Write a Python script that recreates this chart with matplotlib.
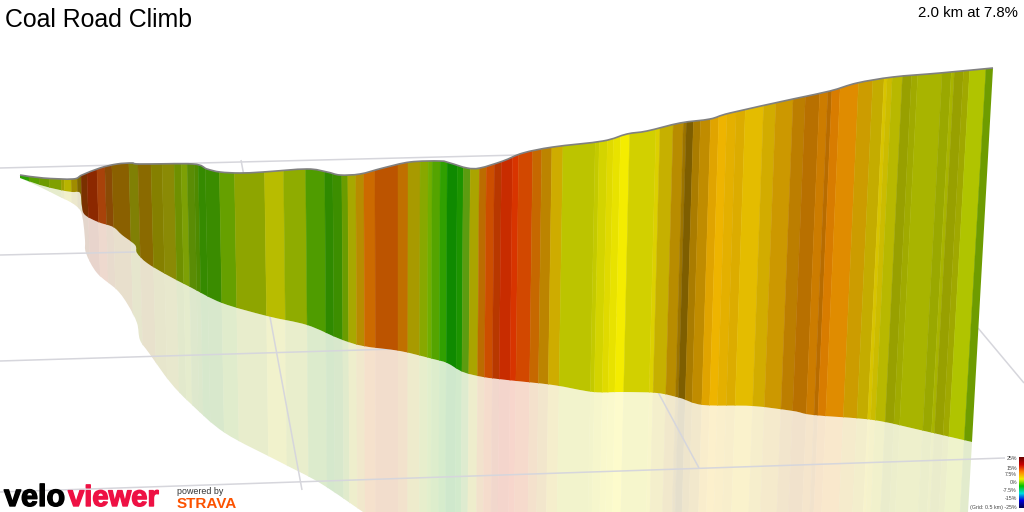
import matplotlib
matplotlib.use('Agg')
import matplotlib.pyplot as plt
import numpy as np
from matplotlib.collections import PolyCollection
from matplotlib.colors import LinearSegmentedColormap, to_rgb
from matplotlib.patches import PathPatch
from matplotlib.path import Path
import matplotlib.patheffects as pe

plt.rcParams['font.family'] = ['Liberation Sans', 'DejaVu Sans']

TITLE = 'Coal Road Climb'
SUMMARY = '2.0 km at 7.8%'

# outline of the climb "wall", picture pixels
top_x = [20, 43, 73, 82, 100, 117, 132, 140, 193, 207, 220, 240, 263, 307, 327, 340, 360, 383, 410, 440, 450,
         467, 480, 503, 523, 553, 603, 627, 647, 680, 710, 730, 793, 830, 857, 893, 940, 993]
top_y = [175, 178, 179, 175, 168, 164, 163, 164, 164, 169, 172, 173, 172, 169, 172, 175, 174, 168, 162, 161, 163,
         168, 168, 161, 153, 147, 141, 134, 131, 123, 119, 113, 99, 91, 83, 77, 73, 68]
bottom_x = [20, 40, 60, 72, 80, 82, 85, 98, 113, 122, 135, 137, 147, 167, 190, 222, 267, 307, 340, 363, 400, 433,
            447, 463, 483, 507, 553, 593, 623, 657, 680, 703, 752, 793, 813, 873, 920, 972]
bottom_y = [178, 185, 190, 192, 193, 207, 215, 222, 227, 235, 245, 253, 263, 275, 287, 303, 316, 325, 339, 346, 351,
            359, 363, 372, 377, 380, 385, 392, 392, 393, 398, 405, 406, 411, 415, 420, 430, 442]

# outer edge of the pale ground shadow
shadow_x = [20, 40, 60, 72, 80, 83, 85, 86, 97, 117, 128, 137, 140, 149, 170, 190, 225, 280, 320, 363]
shadow_y = [178, 187, 197, 203, 210, 220, 240, 253, 273, 290, 305, 323, 340, 353, 382, 403, 433, 462, 483, 512]
shadow_corner = (968, 512)

# gradient strips: left edge read along y=205, then colour
strip_edges = [20, 30, 40, 50, 62, 65, 72, 78, 82, 88, 98, 106, 113, 130, 139, 152, 163, 175, 182, 188, 195, 199, 206,
               220, 235, 265, 284, 306, 325, 333, 342, 348, 356, 364, 375, 398, 408, 420, 428, 432, 440, 447, 457,
               463, 470, 479, 486, 494, 501, 512, 518, 532, 541, 551, 562, 594, 598, 606, 612, 619, 628, 654, 658, 671,
               681, 684, 691, 698, 708, 716, 724, 733, 742, 760, 772, 789, 801, 815, 823, 827, 835, 853, 867, 878,
               881, 886, 896, 905, 911, 935, 944, 947, 956, 962, 978, 996]
strip_colours = ['#2ca000', '#58a000', '#6c9a00', '#80a000', '#a0a000', '#b8b400', '#a08c00', '#806800',
                 '#7a3000', '#8c2800', '#a8420a', '#8a4a05', '#8a6000', '#808005', '#8a6a00', '#858000', '#8a8a05',
                 '#6f9000', '#7da005', '#5a8c05', '#4f8a00', '#358a00', '#3a8c00', '#66a000', '#8ea500',
                 '#b8bc00', '#8fac00', '#4f9c00', '#2f8a00', '#3c8e00', '#6a9c00', '#a8a800', '#b88c00', '#cc6a00',
                 '#bc5400', '#c07000', '#a89a00', '#88a800', '#70ae00', '#54a400', '#30a000', '#0f8a00', '#1c9400',
                 '#5c9c10', '#aaa400', '#bc6c00', '#cc4e00', '#b83800', '#c82c00', '#d83400', '#d24800', '#c66800',
                 '#bc8400', '#ceac00', '#bcc400', '#c4ca00', '#d4d400', '#e0da00', '#e8e200', '#f4ec00', '#d2d000', '#dcd000',
                 '#c6b000', '#b88c00', '#9c7400', '#7e5e00', '#aa7c00', '#c08c00', '#e0a400', '#eeb400', '#e4b000',
                 '#dcac00', '#e4bc00', '#d2ac00', '#cc9800', '#bc7e00', '#b87000', '#cc7c00', '#b86c00', '#d87c00',
                 '#e08c00', '#cc9c00', '#c4ac00', '#d8c400', '#ccbc00', '#b8b800', '#98a000', '#a0aa00', '#a8b400',
                 '#9aa800', '#a8b400', '#98a000', '#a0a800', '#b0c400', '#6e9c00']

# grid on the ground plane, (x0, y0, x1, y1)
grid_lines = [(0, 168, 520, 155), (0, 255, 135, 252), (0, 361, 395, 349), (0, 492, 1005, 458),
              (241, 160, 302, 490), (530, 155, 699, 468), (978, 328, 1024, 383)]

legend_labels = ['25%', '15%', '7.5%', '0%', '-7.5%', '-15%', '(Grid: 0.5 km) -25%']
legend_y = [458, 468, 475, 483, 490, 498, 507]
legend_colours = ['#6e0000', '#c80000', '#ff8000', '#f0f000', '#00c000', '#00e0e0', '#0000e0', '#000050']

# strips lean towards a vanishing point far below the picture
VANISH_X, VANISH_Y, REF_Y = 400, 10100, 205
SHADOW_STRENGTH = 0.2


def edge_at(x0, y):
    return x0 + (x0 - VANISH_X) * (REF_Y - y) / (VANISH_Y - REF_Y)


def strip_polys():
    polys = []
    for left, right in zip(strip_edges[:-1], strip_edges[1:]):
        polys.append([(edge_at(left, 40), 40), (edge_at(right, 40), 40),
                      (edge_at(right, 520), 520), (edge_at(left, 520), 520)])
    return polys


# catmull-rom handles so the read outline points join up as a smooth curve
def curve_verts(xs, ys):
    pts = np.column_stack([xs, ys]).astype(float)
    verts = []
    for i in range(len(pts) - 1):
        before = pts[max(i - 1, 0)]
        after = pts[min(i + 2, len(pts) - 1)]
        verts += [pts[i] + (pts[i + 1] - before) / 6, pts[i + 1] - (after - pts[i]) / 6, pts[i + 1]]
    return verts


def closed_shape(upper_x, upper_y, lower_x, lower_y, corners=()):
    verts = [(upper_x[0], upper_y[0])] + curve_verts(upper_x, upper_y)
    codes = [Path.MOVETO] + [Path.CURVE4] * (3 * (len(upper_x) - 1))
    for corner in corners:
        verts.append(corner)
        codes.append(Path.LINETO)
    verts.append((lower_x[-1], lower_y[-1]))
    codes.append(Path.LINETO)
    verts += curve_verts(lower_x[::-1], lower_y[::-1])
    codes += [Path.CURVE4] * (3 * (len(lower_x) - 1))
    verts.append((upper_x[0], upper_y[0]))
    codes.append(Path.CLOSEPOLY)
    return Path(np.array(verts, dtype=float), codes)


def faded(colour):
    return tuple(SHADOW_STRENGTH * c + (1 - SHADOW_STRENGTH) for c in to_rgb(colour))


fig = plt.figure(figsize=(10.24, 5.12), dpi=100)
ax = fig.add_axes([0, 0, 1, 1])
ax.set_xlim(0, 1024)
ax.set_ylim(512, 0)
ax.axis('off')

shadow = PolyCollection(strip_polys(), facecolors=[faded(c) for c in strip_colours], edgecolors='face',
                        linewidths=0.3, zorder=1)
ax.add_collection(shadow)
shadow.set_clip_path(closed_shape(bottom_x, bottom_y, shadow_x, shadow_y, [shadow_corner]), ax.transData)

for x0, y0, x1, y1 in grid_lines:
    ax.plot([x0, x1], [y0, y1], color='#d6d6dc', lw=1.1, zorder=2, solid_capstyle='butt')

wall = PolyCollection(strip_polys(), facecolors=strip_colours, edgecolors='face', linewidths=0.3, zorder=3)
ax.add_collection(wall)
wall.set_clip_path(closed_shape(top_x, top_y, bottom_x, bottom_y), ax.transData)

ridge = Path(np.array([(top_x[0], top_y[0])] + curve_verts(top_x, top_y)),
             [Path.MOVETO] + [Path.CURVE4] * (3 * (len(top_x) - 1)))
ax.add_patch(PathPatch(ridge, fill=False, edgecolor='#808080', lw=1.2, zorder=4, capstyle='butt'))

ax.text(5, 20, TITLE, fontsize=17.9, color='black', va='center', ha='left')
ax.text(1018, 13, SUMMARY, fontsize=10.8, color='black', va='center', ha='right')

# legend bar
bar = LinearSegmentedColormap.from_list('grade', legend_colours)
ax.imshow(np.linspace(0, 1, 64).reshape(-1, 1), cmap=bar, extent=(1018.5, 1024, 508, 457), aspect='auto', zorder=5)
ax.set_xlim(0, 1024)
ax.set_ylim(512, 0)
for label, y in zip(legend_labels, legend_y):
    ax.text(1017, y, label, fontsize=3.8, color='#444444', va='center', ha='right', zorder=5)

# logo block
ax.text(4, 506, 'velo', fontsize=22, fontweight='bold', color='black', va='baseline', ha='left',
        path_effects=[pe.withStroke(linewidth=1.0, foreground='black')], zorder=6)
ax.text(68, 506, 'viewer', fontsize=21, fontweight='bold', color='#ee1144', va='baseline', ha='left',
        path_effects=[pe.withStroke(linewidth=1.0, foreground='#ee1144')], zorder=6)
ax.text(177, 492, 'powered by', fontsize=6.4, color='#333333', va='center', ha='left', zorder=6)
ax.text(177, 508, 'STRAVA', fontsize=11, fontweight='bold', color='#fc5200', va='baseline', ha='left', zorder=6)

fig.savefig('out.png', dpi=100)
